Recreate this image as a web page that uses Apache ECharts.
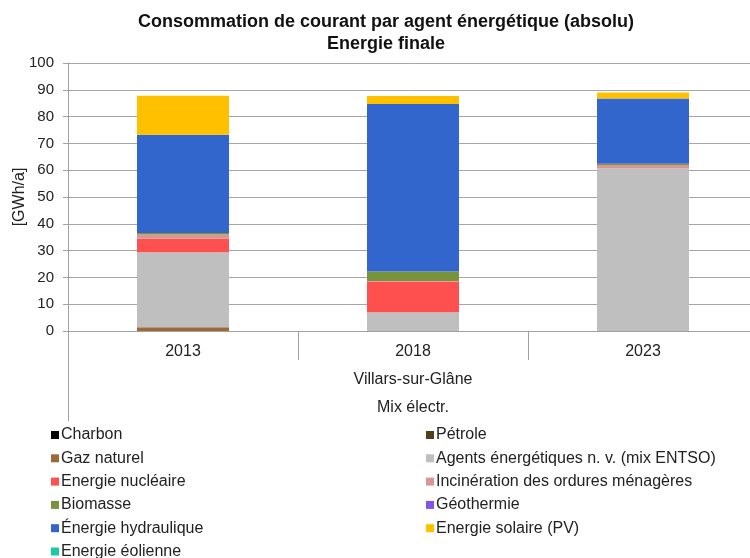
<!DOCTYPE html>
<html>
<head>
<meta charset="utf-8">
<script src="https://cdn.jsdelivr.net/npm/echarts@6/dist/echarts.min.js"></script>
<style>
  html, body { margin: 0; padding: 0; background: #fff; }
  #main { width: 750px; height: 558px; }
</style>
</head>
<body>
<div id="main"></div>
<script>
// categories (years)
var years = ['2013', '2018', '2023'];
var yTicks = [0, 10, 20, 30, 40, 50, 60, 70, 80, 90, 100];

// series values [GWh/a]
var charbon      = [0, 0, 0];
var petrole      = [0, 0, 0];
var gazNaturel   = [1.4, 0, 0];
var agentsNv     = [28.0, 7.0, 60.7];
var nucleaire    = [5.0, 11.5, 0];
var incineration = [1.6, 0.2, 1.2];
var biomasse     = [0.6, 3.5, 0.5];
var geothermie   = [0, 0, 0];
var hydraulique  = [36.6, 62.5, 24.4];
var solaire      = [14.6, 3.0, 2.2];
var eolienne     = [0, 0, 0];

var names = ['Charbon', 'Pétrole', 'Gaz naturel', 'Agents énergétiques n. v. (mix ENTSO)',
  'Energie nucléaire', 'Incinération des ordures ménagères', 'Biomasse', 'Géothermie',
  'Énergie hydraulique', 'Energie solaire (PV)', 'Energie éolienne'];
var values = [charbon, petrole, gazNaturel, agentsNv, nucleaire, incineration,
  biomasse, geothermie, hydraulique, solaire, eolienne];
var colors = ['#000000', '#4f3f1a', '#9c6a36', '#bfbfbf', '#ff5050', '#d99694',
  '#77933c', '#7f56e6', '#3366cc', '#ffc000', '#1dc9a0'];

var font = '"Liberation Sans", Arial, sans-serif';
var txt = '#222';

var series = [];
for (var i = 0; i < names.length; i++) {
    series.push({
        name: names[i],
        type: 'bar',
        stack: 'mix',
        barWidth: '40%',
        itemStyle: { color: colors[i] },
        data: values[i]
    });
}

var legendBase = {
    orient: 'vertical',
    top: 427,
    height: 200,
    icon: 'rect',
    itemWidth: 8,
    itemHeight: 8,
    itemGap: 7.3,
    padding: 0,
    selectedMode: false,
    textStyle: { fontFamily: font, fontSize: 16, color: txt, padding: [0, 0, 0, -3] }
};

var myChart = echarts.init(document.getElementById('main'));
var option = {
    backgroundColor: '#fff',
    animation: false,
    title: {
        text: 'Consommation de courant par agent énergétique (absolu)\nEnergie finale',
        left: 381,
        top: 6,
        textAlign: 'center',
        textStyle: { fontFamily: font, fontSize: 18, fontWeight: 'bold', color: '#111', lineHeight: 22 }
    },
    legend: [
        Object.assign({}, legendBase, { left: 51, data: [names[0], names[2], names[4], names[6], names[8], names[10]] }),
        Object.assign({}, legendBase, { left: 426, data: [names[1], names[3], names[5], names[7], names[9]] })
    ],
    grid: { left: 68, width: 690, top: 63, bottom: 227, containLabel: false, outerBoundsMode: 'none' },
    xAxis: {
        type: 'category',
        data: years,
        axisLine: { lineStyle: { color: '#a0a0a0', width: 1 } },
        axisTick: { show: true, length: 29, lineStyle: { color: '#a0a0a0' } },
        axisLabel: { fontFamily: font, fontSize: 16, color: txt, margin: 13 }
    },
    yAxis: {
        type: 'value',
        min: yTicks[0],
        max: yTicks[yTicks.length - 1],
        interval: 10,
        name: '[GWh/a]',
        nameLocation: 'middle',
        nameGap: 40,
        nameMoveOverlap: false,
        nameTextStyle: { fontFamily: font, fontSize: 16, color: txt },
        axisLine: { show: true, lineStyle: { color: '#a0a0a0' } },
        axisTick: { show: true, length: 5, lineStyle: { color: '#a0a0a0' } },
        axisLabel: { fontFamily: font, fontSize: 15, color: txt, margin: 14 },
        splitLine: { lineStyle: { color: '#a6a6a6', width: 1 } }
    },
    graphic: [
        { type: 'line', shape: { x1: 68.5, y1: 331, x2: 68.5, y2: 421 }, style: { stroke: '#a0a0a0', lineWidth: 1 } },
        { type: 'text', style: { text: 'Villars-sur-Glâne', x: 413, y: 380, textAlign: 'center', textVerticalAlign: 'middle', fill: txt, font: '16px ' + font } },
        { type: 'text', style: { text: 'Mix électr.', x: 413, y: 408, textAlign: 'center', textVerticalAlign: 'middle', fill: txt, font: '16px ' + font } }
    ],
    series: series
};
myChart.setOption(option);
</script>
</body>
</html>
